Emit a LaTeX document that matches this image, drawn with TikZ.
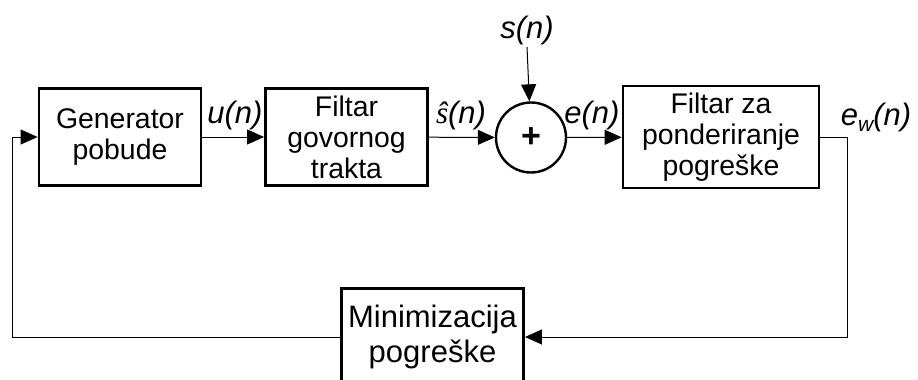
\documentclass[tikz,border=0pt]{standalone}
\usepackage{fontspec}
\setmainfont{Liberation Sans}
\newfontfamily\serifslova{Liberation Serif}
\usetikzlibrary{arrows.meta}
\tikzset{
  blok/.style={draw,line width=1.4pt,minimum width=81pt,minimum height=48.5pt,align=center,
    font=\fontsize{14.2}{15.5}\selectfont},
  zbroj/.style={draw,circle,line width=1.2pt,minimum size=35pt,inner sep=0pt,font=\fontsize{17}{17}\selectfont\bfseries},
  oznaka/.style={font=\fontsize{15.5}{18}\selectfont\itshape,inner sep=0pt},
  veza/.style={line width=0.5pt,-{Triangle[length=8.5pt,width=7.5pt]}}
}
\begin{document}
\begin{tikzpicture}[x=0.5pt,y=-0.5pt]
    \clip (0,0) rectangle (918,380);
    % blokovi
    \node[blok] (gen) at (120,137) {Generator\\pobude};
    \node[blok] (filt) at (346.5,137) {Filtar\\govornog\\trakta};
    \node[zbroj] (sum) at (531,137.5) {+};
    \node[blok,minimum width=98pt] (pond) at (721,137) {Filtar za\\ponderiranje\\pogreške};
    \node[blok,minimum width=90.5pt,font=\fontsize{15.5}{17.5}\selectfont] (mini) at (432.5,337) {Minimizacija\\pogreške};
    % oznake signala
    \node[oznaka] (sig) at (527,30) {s(n)};
    \node[oznaka] at (235,115) {u(n)};
    \node[oznaka] at (461,115) {{\serifslova\itshape ŝ}(n)};
    \node[oznaka] at (592,115) {e(n)};
    \node[oznaka] at (876,117) {e\raisebox{-3pt}{\fontsize{10.5}{12}\selectfont w}(n)};
    \coordinate (desno) at (847,137);
    \coordinate (lijevo) at (12,337);
    % veze
    \draw[veza] (gen) -- (filt);
    \draw[veza] (filt) -- (sum);
    \draw[veza] (sum) -- (pond);
    \draw[veza] (sig) ++(0,17) -- (sum);
    \draw[veza] (pond.east) -- (desno) |- (mini);
    \draw[veza] (mini) -- (lijevo) |- (gen);
  \end{tikzpicture}
\end{document}
